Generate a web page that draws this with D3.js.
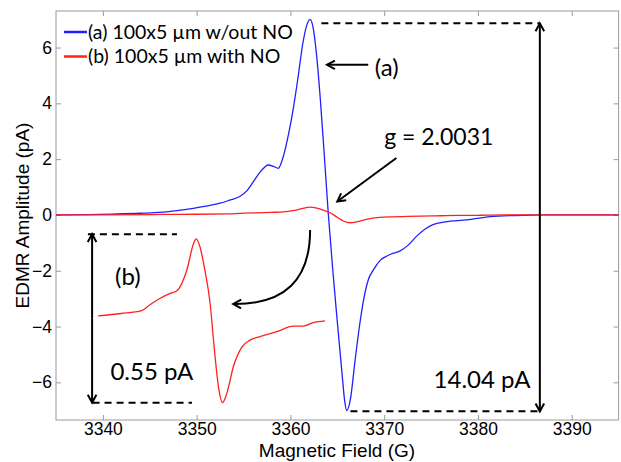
<!DOCTYPE html>
<html>
<head>
<meta charset="utf-8">
<script src="https://cdn.jsdelivr.net/npm/d3@7"></script>
<style>
  body { margin: 0; background: #fff; }
  svg { display: block; }
  .axis text { font-family: "Liberation Sans", Arial, sans-serif; font-size: 17.5px; fill: #000; }
  .axis line { stroke: #9a9a9a; }
  .title { font-family: "Liberation Sans", Arial, sans-serif; font-size: 19px; fill: #000; }
  .note { font-family: Lato, "Open Sans", sans-serif; fill: #000; }
</style>
</head>
<body>
<svg id="chart" width="621" height="462"></svg>
<script>
// (a) device without NO, field in G, amplitude in pA
const fieldA = [3335, 3338, 3341, 3344, 3347, 3349.3, 3351, 3352.5, 3353.6, 3354.6, 3355.4, 3356.05,
  3356.8, 3357.65, 3358.2, 3358.7, 3359.2, 3359.8, 3360.3, 3360.8, 3361.3, 3361.7, 3362.1, 3362.4,
  3362.8, 3363.2, 3363.6, 3364.05, 3364.5, 3364.95, 3365.5, 3365.8, 3366.0, 3366.4, 3366.9, 3367.4,
  3367.8, 3368.3, 3368.85, 3369.6, 3370.3, 3371.0, 3371.7, 3372.5, 3373.5, 3374.3, 3375.2, 3376.5,
  3378.8, 3381.3, 3384, 3387, 3395];
const ampA = [0.00, 0.01, 0.03, 0.06, 0.12, 0.22, 0.32, 0.42, 0.54, 0.66, 0.88, 1.19,
  1.55, 1.79, 1.74, 1.67, 2.05, 2.9, 3.8, 4.9, 6.1, 6.75, 7.01, 6.75,
  5.7, 4.1, 2.2, 0.0, -1.9, -3.64, -5.67, -6.7, -7.01, -6.6, -5.2, -3.9,
  -3.05, -2.33, -1.97, -1.62, -1.47, -1.37, -1.29, -1.1, -0.75, -0.52, -0.35, -0.25,
  -0.18, -0.06, -0.02, 0.0, 0.0];

// (b) device with NO
const fieldB = [3335, 3340, 3346.3, 3350, 3353.3, 3354.6, 3356.3, 3357.9, 3359.0, 3360.6, 3361.7,
  3362.1, 3362.7, 3363.5, 3364.35, 3365.0, 3365.7, 3366.35, 3367.05, 3368.1, 3369.5, 3370.8,
  3372.4, 3375.1, 3377.8, 3379.4, 3381.0, 3382.9, 3395];
const ampB = [0.0, 0.005, 0.017, 0.025, 0.035, 0.054, 0.077, 0.094, 0.103, 0.174, 0.265,
  0.28, 0.254, 0.174, 0.06, -0.089, -0.226, -0.28, -0.248, -0.157, -0.089, -0.066,
  -0.054, -0.037, -0.018, -0.018, -0.006, 0.0, 0.003];

const xTicks = [3340, 3350, 3360, 3370, 3380, 3390];
const yTicks = [-6, -4, -2, 0, 2, 4, 6];
const legendLabels = ['(a) 100x5 \u00b5m w/out NO', '(b) 100x5 \u00b5m with NO'];
const seriesColors = ['#2020ff', '#ff2020'];

const svg = d3.select('#chart');
const plotLeft = 56, plotRight = 618.6, plotTop = 11, plotBottom = 420;

const x = d3.scaleLinear().domain([3335, 3395]).range([plotLeft, plotRight]);
const y = d3.scaleLinear().domain([-7.35, 7.31]).range([plotBottom, plotTop]);

// axes, ticks inside on all four sides
const tk = 5;
svg.append('g').attr('class', 'axis').attr('transform', `translate(0,${plotBottom})`)
  .call(d3.axisBottom(x).tickValues(xTicks).tickSize(-tk).tickPadding(3).tickFormat(d3.format('d')));
svg.append('g').attr('class', 'axis').attr('transform', `translate(0,${plotTop})`)
  .call(d3.axisTop(x).tickValues(xTicks).tickSize(-tk).tickFormat(''));
svg.append('g').attr('class', 'axis').attr('transform', `translate(${plotLeft},0)`)
  .call(d3.axisLeft(y).tickValues(yTicks).tickSize(-tk).tickPadding(4));
svg.append('g').attr('class', 'axis').attr('transform', `translate(${plotRight},0)`)
  .call(d3.axisRight(y).tickValues(yTicks).tickSize(-tk).tickFormat(''));
svg.selectAll('.axis .domain').remove();
svg.append('rect')
  .attr('x', plotLeft).attr('y', plotTop).attr('width', plotRight - plotLeft).attr('height', plotBottom - plotTop)
  .attr('fill', 'none').attr('stroke', '#9a9a9a');

svg.append('text').attr('class', 'title')
  .attr('x', 337).attr('y', 456.5).attr('text-anchor', 'middle')
  .text('Magnetic Field (G)');
svg.append('text').attr('class', 'title')
  .attr('transform', `translate(28.5,${(plotTop + plotBottom) / 2}) rotate(-90)`).attr('text-anchor', 'middle')
  .text('EDMR Amplitude (pA)');

const line = d3.line().curve(d3.curveMonotoneX).x(d => x(d[0])).y(d => y(d[1]));
const dataA = fieldA.map((f, i) => [f, ampA[i]]);
const dataB = fieldB.map((f, i) => [f, ampB[i]]);

svg.append('path').attr('d', line(dataA)).attr('fill', 'none')
  .attr('stroke', seriesColors[0]).attr('stroke-width', 1.3);
svg.append('path').attr('d', line(dataB)).attr('fill', 'none')
  .attr('stroke', seriesColors[1]).attr('stroke-width', 1.3);

// magnified copy of (b), placed in the lower left of the plot
const xIn = d3.scaleLinear().domain([3346.3, 3382.9]).range([3339.5, 3363.7]);
const yIn = d3.scaleLinear().domain([-0.28, 0.28]).range([-6.73, -0.86]);
const inset = dataB.filter(d => d[0] >= 3346.3 && d[0] <= 3382.9).map(d => [xIn(d[0]), yIn(d[1])]);
svg.append('path').attr('d', line(inset)).attr('fill', 'none')
  .attr('stroke', seriesColors[1]).attr('stroke-width', 1.3);

// legend
legendLabels.forEach((lab, i) => {
  const ly = 32 + i * 24.5;
  svg.append('line').attr('x1', 64).attr('x2', 87).attr('y1', ly).attr('y2', ly)
    .attr('stroke', seriesColors[i]).attr('stroke-width', 2.5);
  svg.append('text').attr('class', 'note').attr('x', 88).attr('y', ly + 6.5)
    .attr('font-size', 19.5).text(lab);
});

// annotations
const ann = svg.append('g').attr('stroke', '#000').attr('fill', 'none').attr('stroke-width', 2);

function head (x1, y1, x2, y2) {
  const a = Math.atan2(y2 - y1, x2 - x1), s = 9, w = 0.5;
  ann.append('path').attr('stroke-linejoin', 'miter')
    .attr('d', `M${x2 - s * Math.cos(a - w)},${y2 - s * Math.sin(a - w)}L${x2},${y2}L${x2 - s * Math.cos(a + w)},${y2 - s * Math.sin(a + w)}`);
}
function arrow (g1, v1, g2, v2) {
  ann.append('line').attr('x1', x(g1)).attr('y1', y(v1)).attr('x2', x(g2)).attr('y2', y(v2));
  head(x(g1), y(v1), x(g2), y(v2));
}
function dashed (g1, g2, v) {
  ann.append('line').attr('x1', x(g1)).attr('x2', x(g2)).attr('y1', y(v)).attr('y2', y(v))
    .attr('stroke-dasharray', '7,5');
}
function note (g, v, txt, size, anchor) {
  svg.append('text').attr('class', 'note').attr('x', x(g)).attr('y', y(v))
    .attr('font-size', size).attr('text-anchor', anchor || 'start').text(txt);
}

// (a) peak-to-peak
dashed(3363.3, 3386.6, 6.87);
dashed(3366.4, 3386.6, -7.04);
arrow(3386.6, 0, 3386.6, 6.87);
arrow(3386.6, 0, 3386.6, -7.04);
note(3385.6, -6.2, '14.04 pA', 24, 'end');

// (b) peak-to-peak
dashed(3338.4, 3347.9, -0.69);
dashed(3338.9, 3349.5, -6.73);
arrow(3338.85, -3.7, 3338.85, -0.69);
arrow(3338.85, -3.7, 3338.85, -6.73);
note(3341.3, -2.51, '(b)', 24);
note(3340.8, -5.91, '0.55 pA', 24);

// curved arrow from (b) to its magnified copy
const c0 = [x(3362.1), y(-0.54)], c1 = [x(3362.1), y(-3.23)], c2 = [x(3353.9), y(-3.19)];
ann.append('path').attr('d', `M${c0}Q${c1} ${c2}`);
head(c1[0], c1[1], c2[0], c2[1]);

arrow(3368.3, 5.38, 3363.9, 5.38);
note(3369.0, 4.98, '(a)', 24);
arrow(3371.3, 2.04, 3365.0, 0.48);
note(3370.0, 2.51, 'g = 2.0031', 23);
</script>
</body>
</html>
